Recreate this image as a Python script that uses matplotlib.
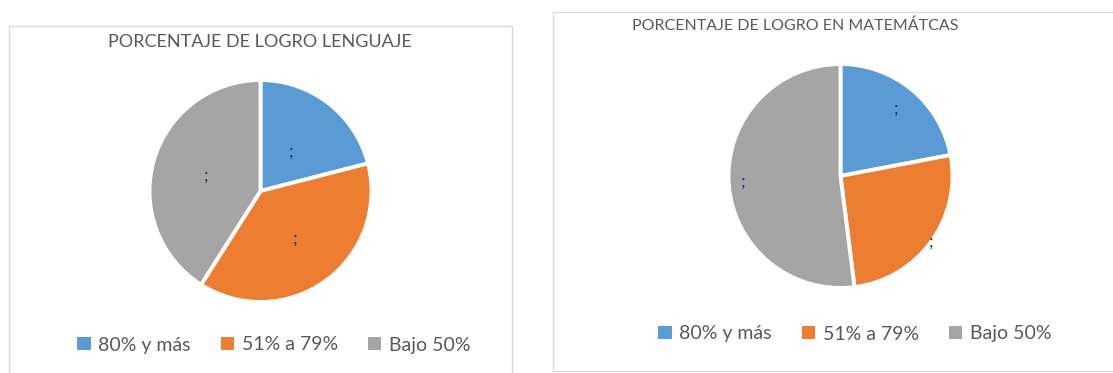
import numpy as np
import matplotlib
matplotlib.use("Agg")
import matplotlib.pyplot as plt
from matplotlib.patches import Rectangle, Patch

plt.rcParams['font.family'] = ['Lato', 'DejaVu Sans']

W, H = 1113, 373

categorias = ["80% y más", "51% a 79%", "Bajo 50%"]
lenguaje = [21, 38, 41]
matematicas = [22, 26, 52]
colores = ["#5B9BD5", "#ED7D31", "#A5A5A5"]


def fx(px):
    return px / W


def fy(py):
    return 1 - py / H


def pie_axes(fig, cx, cy, r):
    return fig.add_axes([fx(cx - r), fy(cy + r), 2 * r / W, 2 * r / H])


def dibujar_pie(ax, valores, dist_etiquetas):
    wedges, _ = ax.pie(valores, colors=colores, startangle=90, counterclock=False,
                       wedgeprops=dict(edgecolor="white", linewidth=2.8))
    # etiquetas de datos (solo ";")
    for w, d in zip(wedges, dist_etiquetas):
        ang = np.deg2rad((w.theta1 + w.theta2) / 2)
        ax.text(d * np.cos(ang), d * np.sin(ang), ";", color="#1F3864",
                fontsize=13, ha="center", va="center")
    ax.set_xlim(-1, 1)
    ax.set_ylim(-1, 1)
    ax.set_aspect("equal")
    ax.axis("off")
    return wedges


def leyenda(fig, x, y):
    handles = [Patch(facecolor=c, edgecolor="none") for c in colores]
    fig.legend(handles, categorias, loc="center", bbox_to_anchor=(fx(x), fy(y)), ncol=3,
               frameon=False, fontsize=14, labelcolor="#595959", handlelength=0.68,
               handleheight=0.68, handletextpad=0.4, columnspacing=1.55)


fig = plt.figure(figsize=(W / 100, H / 100), dpi=100)

# marcos de cada grafico
fig.add_artist(Rectangle((fx(9), fy(380)), fx(512 - 9), (380 - 26) / H,
                         transform=fig.transFigure, fill=False,
                         edgecolor="#d9d9d9", lw=1))
fig.add_artist(Rectangle((fx(553), fy(371)), fx(1130 - 553), (371 - 12) / H,
                         transform=fig.transFigure, fill=False,
                         edgecolor="#d9d9d9", lw=1))

# Lenguaje
ax1 = pie_axes(fig, 260.5, 191, 111)
dibujar_pie(ax1, lenguaje, [0.45, 0.53, 0.51])
fig.text(fx(260), fy(42), "PORCENTAJE DE LOGRO LENGUAJE", ha="center", va="center",
         fontsize=13, color="#595959")
leyenda(fig, 274, 345)

# Matematicas
ax2 = pie_axes(fig, 840.5, 176, 112)
dibujar_pie(ax2, matematicas, [0.78, 1.0, 0.87])
fig.text(fx(632), fy(26), "PORCENTAJE DE LOGRO EN MATEMÁTCAS", ha="left", va="center",
         fontsize=11.5, color="#595959")
leyenda(fig, 855, 334)

fig.savefig("out.png", dpi=100)
